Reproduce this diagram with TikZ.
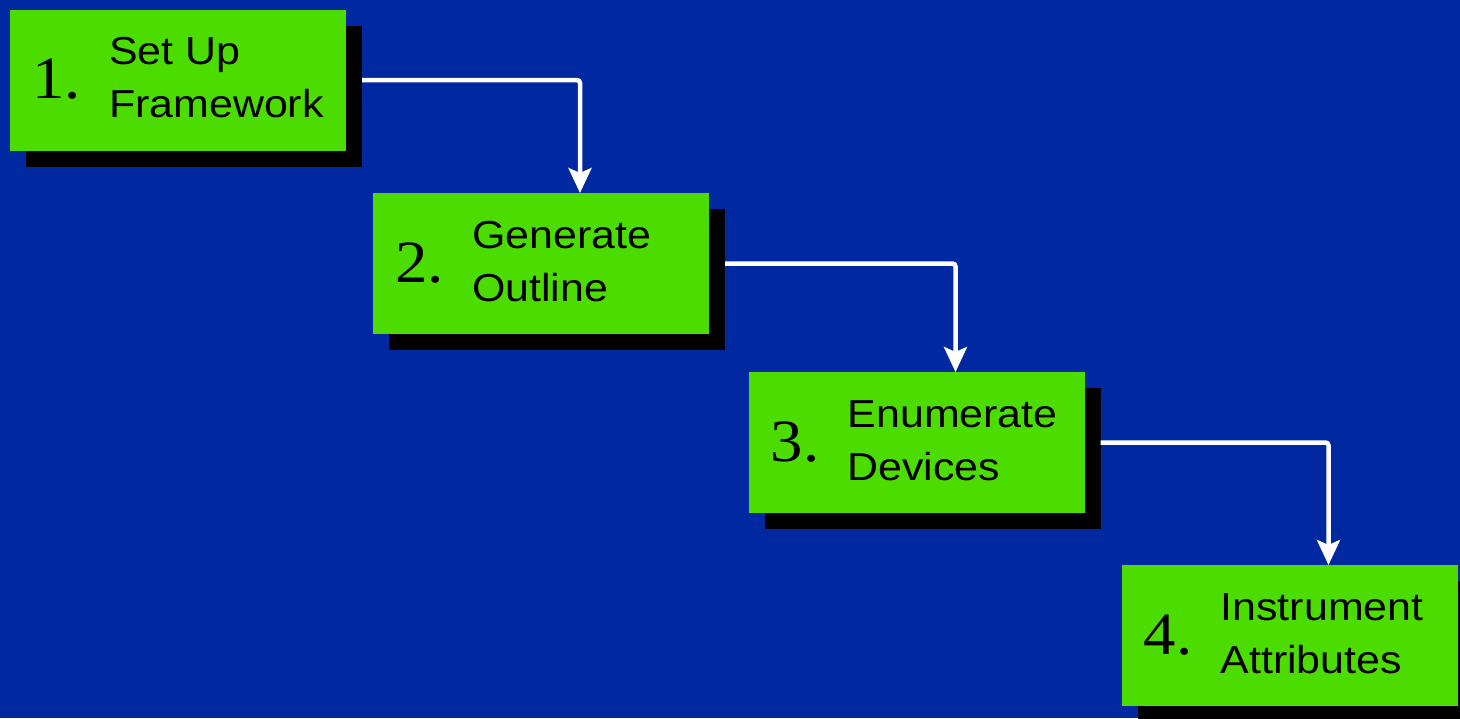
\documentclass[tikz,border=0pt]{standalone}
\usepackage{fontspec}
\setmainfont[FakeStretch=1.08]{Liberation Serif}
\setsansfont[FakeStretch=1.10]{Liberation Sans}
\usetikzlibrary{arrows.meta,calc,shadows}
\definecolor{slideblue}{RGB}{0,40,160}
\definecolor{stepgreen}{RGB}{77,220,0}
\begin{document}
\begin{tikzpicture}[x=1pt,y=-1pt,
  stepbox/.style={fill=stepgreen, minimum width=336pt, minimum height=141pt,
    inner sep=0pt, outer sep=0pt,
    drop shadow={shadow xshift=16pt, shadow yshift=-16pt, opacity=1, fill=black}},
  num/.style={font=\fontsize{60}{60}\selectfont\rmfamily, anchor=base west, inner sep=0pt},
  lbl/.style={font=\fontsize{39}{53}\selectfont\sffamily, anchor=base west, inner sep=0pt},
  flow/.style={draw=white, line width=4.5pt, rounded corners=3pt,
    -{Stealth[length=25pt,width=23pt,inset=5pt]}}]
\useasboundingbox (0,0) rectangle (1460,718);
\fill[slideblue] (0,0) rectangle (1460,718);
\clip (0,0) rectangle (1460,718);

% step boxes
\node[stepbox] (b1) at (178,80) {};
\node[stepbox] (b2) at (541,263.5) {};
\node[stepbox] (b3) at (916.5,442.5) {};
\node[stepbox] (b4) at (1289.5,635.5) {};

% step numbers
\node[num] (n1) at ($(b1.north west)+(22,89)$) {1.};
\node[num] (n2) at ($(b2.north west)+(22,89)$) {2.};
\node[num] (n3) at ($(b3.north west)+(22,89)$) {3.};
\node[num] (n4) at ($(b4.north west)+(22,89)$) {4.};

% step titles
\node[lbl] (t1a) at ($(b1.north west)+(99,55)$) {Set Up};
\node[lbl] (t1b) at ($(b1.north west)+(99,108)$) {Framework};
\node[lbl] (t2a) at ($(b2.north west)+(99,55)$) {Generate};
\node[lbl] (t2b) at ($(b2.north west)+(99,108)$) {Outline};
\node[lbl] (t3a) at ($(b3.north west)+(99,55)$) {Enumerate};
\node[lbl] (t3b) at ($(b3.north west)+(99,108)$) {Devices};
\node[lbl] (t4a) at ($(b4.north west)+(99,55)$) {Instrument};
\node[lbl] (t4b) at ($(b4.north west)+(99,108)$) {Attributes};

% connectors
\draw[flow] ([xshift=16pt]b1.east) -| ([xshift=207pt]b2.north west);
\draw[flow] ([xshift=16pt]b2.east) -| ([xshift=207pt]b3.north west);
\draw[flow] ([xshift=16pt]b3.east) -| ([xshift=207pt]b4.north west);
\end{tikzpicture}
\end{document}
